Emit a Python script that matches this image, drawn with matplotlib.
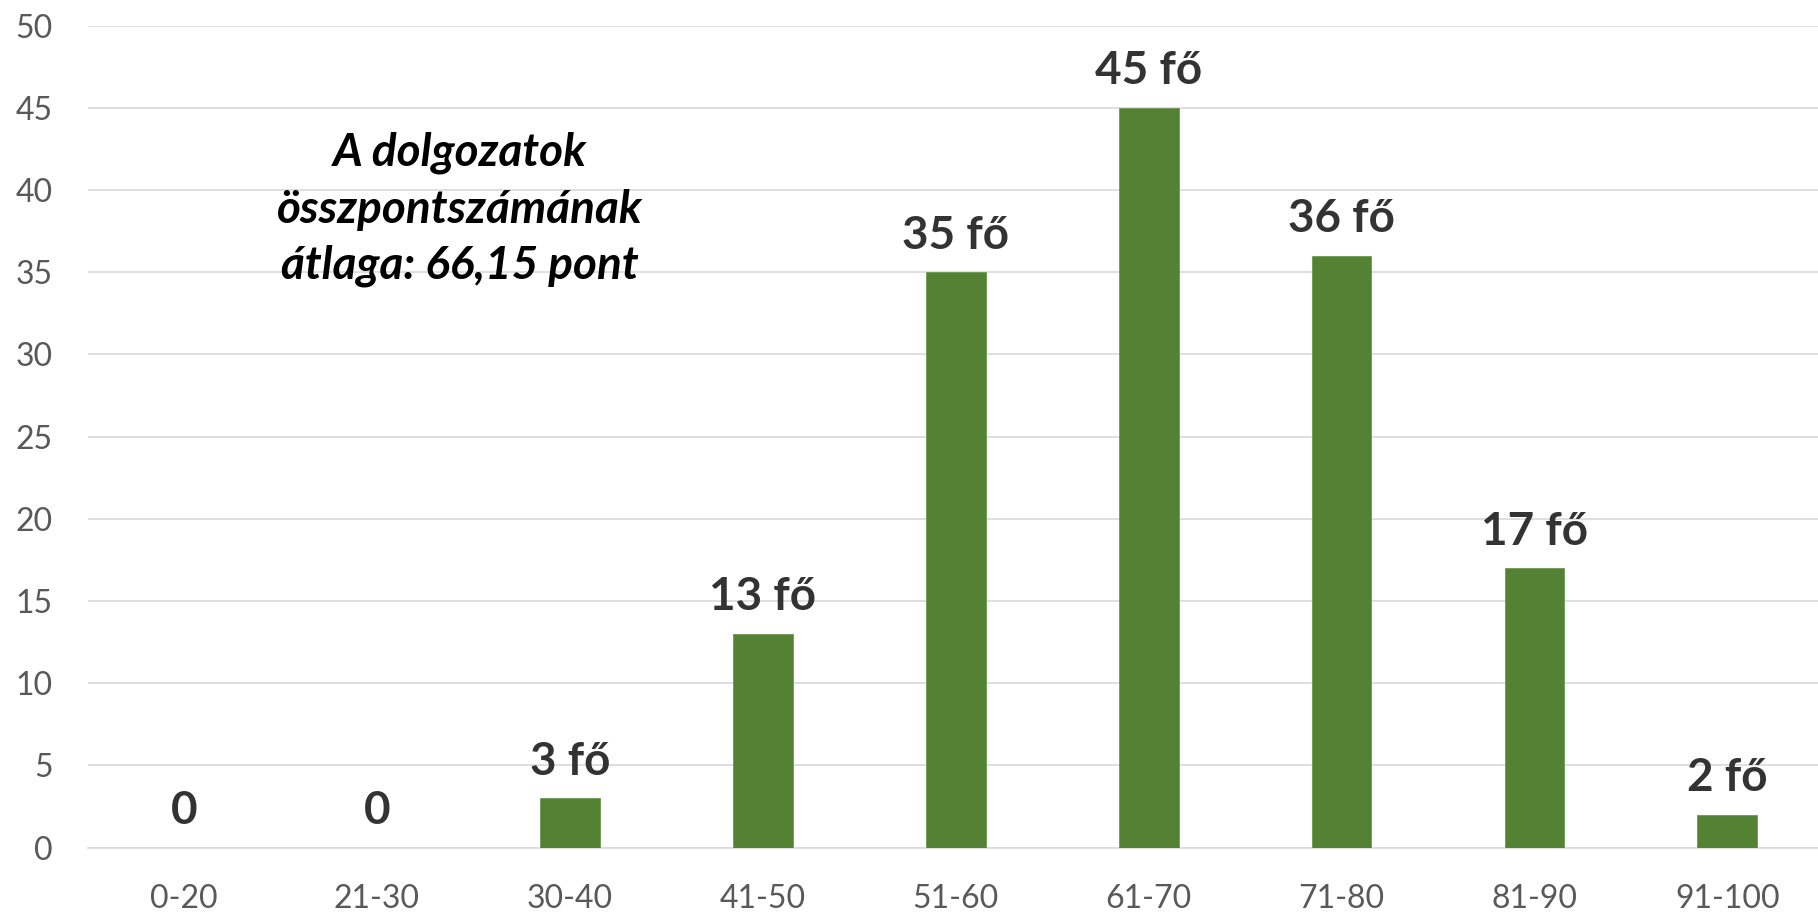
import numpy as np
import matplotlib.pyplot as plt

plt.rcParams['font.family'] = ['Lato', 'DejaVu Sans']

# pontszám-sávok és létszámok
categories = ['0-20', '21-30', '30-40', '41-50', '51-60', '61-70', '71-80', '81-90', '91-100']
counts = [0, 0, 3, 13, 35, 45, 36, 17, 2]
bar_labels = ['0', '0', '3 fő', '13 fő', '35 fő', '45 fő', '36 fő', '17 fő', '2 fő']
note = 'A dolgozatok\nösszpontszámának\nátlaga: 66,15 pont'

fig = plt.figure(figsize=(18.18, 9.13), dpi=100)
ax = fig.add_axes([0.0482, 0.0716, 0.955, 0.9004])

x = np.arange(len(categories))
ax.bar(x, counts, width=0.31, color='#548235', edgecolor='#6a9a4c', linewidth=0.6, zorder=3)

for xi, v, lab in zip(x, counts, bar_labels):
    ax.annotate(lab, (xi, v), xytext=(0, 17), textcoords='offset points',
                ha='center', va='baseline', fontsize=33, fontweight='bold',
                color='#333333', zorder=4)

ax.text(1.43, 38.8, note, ha='center', va='center', fontsize=33,
        fontweight='bold', fontstyle='italic', color='black',
        linespacing=1.42, zorder=4)

ax.set_xlim(-0.5, len(categories) - 0.5)
ax.set_ylim(0, 50)
ax.set_yticks(np.arange(0, 51, 5))
ax.set_xticks(x)
ax.set_xticklabels(categories)
ax.tick_params(axis='both', length=0, labelsize=23, labelcolor='#595959')
ax.tick_params(axis='y', pad=25)
ax.tick_params(axis='x', pad=26)

ax.grid(axis='y', color='#d9d9d9', linewidth=1.2, zorder=0)
for s in ['top', 'right', 'left']:
    ax.spines[s].set_visible(False)
ax.spines['bottom'].set_color('#d9d9d9')
ax.spines['bottom'].set_linewidth(1.2)

plt.savefig('out.png', dpi=100)
